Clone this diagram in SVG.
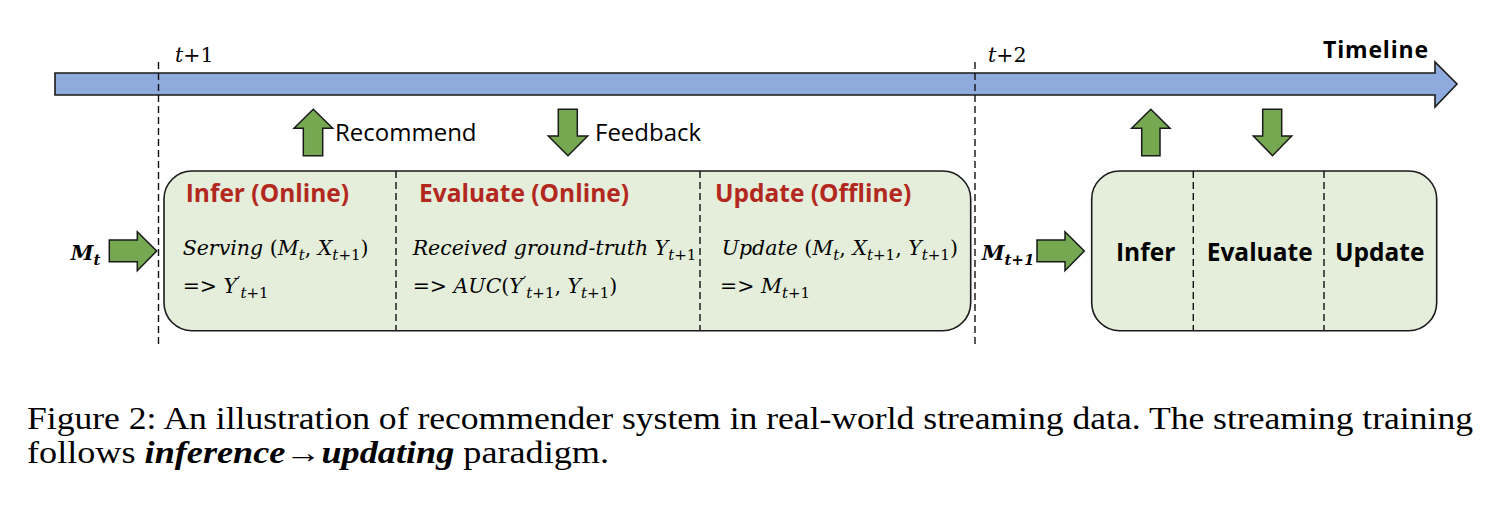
<svg xmlns="http://www.w3.org/2000/svg" width="1506" height="516" viewBox="0 0 1506 516">
<style>
.bar{fill:#8FAADC;stroke:#1a1a1a;stroke-width:1.6}
.garrow{fill:#76A852;stroke:#1a1a1a;stroke-width:1.5}
.box{fill:#E4EEDA;stroke:#1a1a1a;stroke-width:1.6}
.dash{stroke:#111;stroke-width:1.4;stroke-dasharray:7 4;fill:none}
.sans{font-family:"Open Sans","Noto Sans","DejaVu Sans",sans-serif;fill:#000}
.head{font-family:"Open Sans","Noto Sans","DejaVu Sans",sans-serif;font-weight:700;font-size:24.5px;fill:#B3281E}
.math{font-family:"DejaVu Serif","Liberation Serif",serif;font-size:20.5px;fill:#000}
.it{font-style:italic}
.cap{font-family:"Liberation Serif","Times New Roman",serif;font-size:30.5px;fill:#000}
</style>
<rect width="1506" height="516" fill="#fff"/>
<g id="timeline">
<polygon class="bar" points="55,73 1435,73 1435,62 1457,84 1435,107 1435,95 55,95"/>
<text class="sans" x="1323" y="58" font-size="23" font-weight="700" textLength="105">Timeline</text>
</g>
<g id="guides">
<line class="dash" x1="158.5" y1="62" x2="158.5" y2="344"/>
<line class="dash" x1="975" y1="62" x2="975" y2="344"/>
<text class="math" x="175" y="62" font-size="19"><tspan class="it">t</tspan>+1</text>
<text class="math" x="988" y="62" font-size="19"><tspan class="it">t</tspan>+2</text>
</g>
<g id="connectors">
<polygon class="garrow" points="313.3,109.3 332.7,128.3 322.7,128.3 322.7,155.7 303.3,155.7 303.3,128.3 294,128.3"/>
<polygon class="garrow" points="558.3,109.3 577.3,109.3 577.3,136 587.7,136 568,155.7 548.3,136 558.3,136"/>
<polygon class="garrow" points="1150.8,109.3 1170,128.3 1160,128.3 1160,155.7 1141.7,155.7 1141.7,128.3 1131.7,128.3"/>
<polygon class="garrow" points="1262.7,109.3 1281.7,109.3 1281.7,136 1291.7,136 1272.5,155.7 1253.3,136 1262.7,136"/>
<polygon class="garrow" points="109.3,240 137.3,240 137.3,231.7 156.7,251 137.3,270.7 137.3,261.7 109.3,261.7"/>
<polygon class="garrow" points="1037,240 1065,240 1065,231.7 1084.3,251 1065,270.7 1065,261.7 1037,261.7"/>
</g>
<g id="label-recommend"><text class="sans" x="335" y="141" font-size="24">Recommend</text></g>
<g id="label-feedback"><text class="sans" x="595" y="141" font-size="24">Feedback</text></g>
<g id="label-mt">
<text class="math" x="70.7" y="260" font-weight="700" font-style="italic">M<tspan font-size="15" dy="5">t</tspan></text>
</g>
<g id="label-mt1">
<text class="math" x="981.7" y="260" font-weight="700" font-style="italic">M<tspan font-size="15" dy="5">t+1</tspan></text>
</g>
<g id="step-t1">
<rect class="box" x="164" y="171" width="806.7" height="159.7" rx="28" ry="28"/>
<line class="dash" x1="396" y1="171" x2="396" y2="330.7"/>
<line class="dash" x1="700" y1="171" x2="700" y2="330.7"/>
<text class="head" x="185.7" y="202.3">Infer (Online)</text>
<text class="head" x="419" y="202.3">Evaluate (Online)</text>
<text class="head" x="715" y="202.3">Update (Offline)</text>
<text class="math" x="182.7" y="255"><tspan class="it">Serving</tspan> (<tspan class="it">M</tspan><tspan class="it" font-size="15" dy="5">t</tspan><tspan dy="-5">, </tspan><tspan class="it">X</tspan><tspan class="it" font-size="15" dy="5">t</tspan><tspan font-size="15">+1</tspan><tspan dy="-5">)</tspan></text>
<text class="math" x="182.7" y="293">=&gt; <tspan class="it">Y</tspan><tspan font-size="15" dy="-6">′</tspan><tspan class="it" font-size="15" dy="11">t</tspan><tspan font-size="15">+1</tspan></text>
<text class="math" x="412.7" y="255"><tspan class="it">Received ground-truth Y</tspan><tspan class="it" font-size="15" dy="5">t</tspan><tspan font-size="15">+1</tspan></text>
<text class="math" x="412.7" y="293">=&gt; <tspan class="it">AUC</tspan>(<tspan class="it">Y</tspan><tspan font-size="15" dy="-6">′</tspan><tspan class="it" font-size="15" dy="11">t</tspan><tspan font-size="15">+1</tspan><tspan dy="-5">, </tspan><tspan class="it">Y</tspan><tspan class="it" font-size="15" dy="5">t</tspan><tspan font-size="15">+1</tspan><tspan dy="-5">)</tspan></text>
<text class="math" x="721.7" y="255"><tspan class="it">Update</tspan> (<tspan class="it">M</tspan><tspan class="it" font-size="15" dy="5">t</tspan><tspan dy="-5">, </tspan><tspan class="it">X</tspan><tspan class="it" font-size="15" dy="5">t</tspan><tspan font-size="15">+1</tspan><tspan dy="-5">, </tspan><tspan class="it">Y</tspan><tspan class="it" font-size="15" dy="5">t</tspan><tspan font-size="15">+1</tspan><tspan dy="-5">)</tspan></text>
<text class="math" x="720" y="293">=&gt; <tspan class="it">M</tspan><tspan class="it" font-size="15" dy="5">t</tspan><tspan font-size="15">+1</tspan></text>
</g>
<g id="step-t2">
<rect class="box" x="1091.7" y="171" width="345" height="159.7" rx="28" ry="28"/>
<line class="dash" x1="1193.3" y1="171" x2="1193.3" y2="330.7"/>
<line class="dash" x1="1324" y1="171" x2="1324" y2="330.7"/>
<text class="sans" x="1116" y="261" font-size="24.5" font-weight="700">Infer</text>
<text class="sans" x="1206.7" y="261" font-size="24.5" font-weight="700">Evaluate</text>
<text class="sans" x="1335" y="261" font-size="24.5" font-weight="700">Update</text>
</g>
<g id="caption">
<text class="cap" x="27" y="428.5" textLength="1446" lengthAdjust="spacingAndGlyphs">Figure 2: An illustration of recommender system in real-world streaming data. The streaming training</text>
<text class="cap" x="27" y="462.5" textLength="582" lengthAdjust="spacingAndGlyphs">follows <tspan font-weight="700" font-style="italic">inference</tspan>→<tspan font-weight="700" font-style="italic">updating</tspan> paradigm.</text>
</g>
</svg>
